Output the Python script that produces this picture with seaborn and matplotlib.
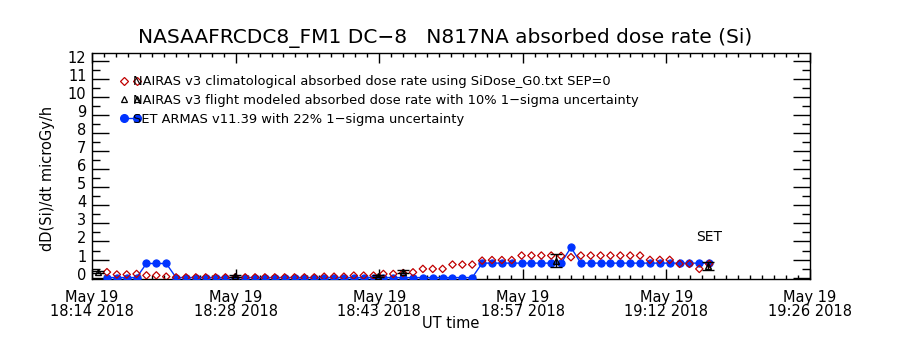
import matplotlib
matplotlib.use("Agg")
import matplotlib.pyplot as plt
import matplotlib.transforms as mtransforms
import seaborn as sns
import pandas as pd
from matplotlib.lines import Line2D
from matplotlib.ticker import FixedLocator, MultipleLocator

# time of each ARMAS/NAIRAS sample, minutes after 18:14 UT
t_min = [1.50, 2.49, 3.48, 4.47, 5.46, 6.45, 7.44, 8.43, 9.42, 10.41,
         11.40, 12.39, 13.38, 14.37, 15.36, 16.35, 17.34, 18.33, 19.32, 20.31,
         21.30, 22.29, 23.28, 24.27, 25.26, 26.25, 27.24, 28.23, 29.22, 30.21,
         31.20, 32.19, 33.18, 34.17, 35.16, 36.15, 37.14, 38.13, 39.12, 40.11,
         41.10, 42.09, 43.08, 44.07, 45.06, 46.05, 47.04, 48.03, 49.02, 50.01,
         51.00, 51.99, 52.98, 53.97, 54.96, 55.95, 56.94, 57.93, 58.92, 59.91,
         60.90, 61.89]

# SET ARMAS v11.39 dose rate
set_armas = [0, 0, 0, 0, 0.78, 0.78, 0.78, 0, 0, 0,
             0, 0, 0, 0, 0, 0, 0, 0, 0, 0,
             0, 0, 0, 0, 0, 0, 0, 0, 0, 0,
             0, 0, 0, 0, 0, 0, 0, 0, 0.80, 0.80,
             0.80, 0.80, 0.80, 0.80, 0.80, 0.80, 0.80, 1.67, 0.80, 0.80,
             0.80, 0.80, 0.80, 0.80, 0.80, 0.80, 0.80, 0.80, 0.80, 0.80,
             0.80, 0.80]

# NAIRAS v3 climatological dose rate
nairas_clim = [0.30, 0.17, 0.17, 0.20, 0.12, 0.12, 0.05, 0.01, 0.01, 0.01,
               0.01, 0.01, 0.01, 0.01, 0.01, 0.01, 0.01, 0.01, 0.01, 0.01,
               0.01, 0.01, 0.05, 0.05, 0.05, 0.11, 0.11, 0.11, 0.20, 0.20,
               0.25, 0.29, 0.48, 0.48, 0.48, 0.72, 0.72, 0.72, 0.94, 0.97,
               0.97, 0.97, 1.22, 1.22, 1.22, 1.22, 1.20, 1.13, 1.22, 1.22,
               1.22, 1.22, 1.22, 1.22, 1.22, 0.98, 0.98, 0.98, 0.76, 0.76,
               0.48, 0.76]

# NAIRAS v3 flight-modeled dose rate (sparse) with uncertainty
flt_t = [0.60, 14.30, 28.70, 31.20, 46.50, 61.80]
flt_v = [0.30, 0.10, 0.10, 0.33, 0.94, 0.62]
flt_err = [0.04, 0.06, 0.06, 0.10, 0.38, 0.22]

xtick_min = [0, 14.4, 28.8, 43.2, 57.6, 72.0]
xtick_labels = ["May 19\n18:14 2018", "May 19\n18:28 2018", "May 19\n18:43 2018",
                "May 19\n18:57 2018", "May 19\n19:12 2018", "May 19\n19:26 2018"]

title = "NASAAFRCDC8_FM1 DC\u22128   N817NA absorbed dose rate (Si)"
leg_labels = ["NAIRAS v3 climatological absorbed dose rate using SiDose_G0.txt SEP=0",
              "NAIRAS v3 flight modeled absorbed dose rate with 10% 1\u2212sigma uncertainty",
              "SET ARMAS v11.39 with 22% 1\u2212sigma uncertainty"]

sns.set_style("white")
plt.rcParams["font.family"] = ["DejaVu Sans"]
plt.rcParams.update({"text.color": "black", "axes.labelcolor": "black",
                     "xtick.color": "black", "ytick.color": "black"})

RED = "#c00000"
BLUE = "#0033ff"

fig = plt.figure(figsize=(9, 3.5), dpi=100)
ax = fig.add_axes([92 / 900, 1 - 279 / 350, 718 / 900, 226 / 350])

df_set = pd.DataFrame({"t": t_min, "v": set_armas})
df_clim = pd.DataFrame({"t": t_min, "v": nairas_clim})

sns.lineplot(data=df_set, x="t", y="v", ax=ax, color=BLUE, lw=1.0,
             marker="o", markersize=5.2, markeredgecolor=BLUE, zorder=3)
sns.scatterplot(data=df_clim, x="t", y="v", ax=ax, marker="D", s=14,
                facecolor="none", edgecolor=RED, linewidth=0.9, zorder=4)
ax.errorbar(flt_t, flt_v, yerr=flt_err, fmt="^", ms=4, mfc="none",
            mec="black", ecolor="black", elinewidth=1.0, capsize=4,
            capthick=1.0, zorder=5)

ax.set_xlim(0, 72)
ax.set_ylim(-0.08, 12.45)
ax.xaxis.set_major_locator(FixedLocator(xtick_min))
ax.set_xticklabels(xtick_labels, fontsize=10.5, linespacing=0.9)
ax.xaxis.set_minor_locator(MultipleLocator(1.2))
ax.yaxis.set_major_locator(MultipleLocator(1))
ax.yaxis.set_minor_locator(MultipleLocator(0.5))
ax.tick_params(axis="y", which="major", direction="in", length=12, width=1,
               labelsize=10.5, left=True, right=True, pad=4)
ax.tick_params(axis="y", which="minor", direction="in", length=6, width=1,
               left=True, right=True)
ax.tick_params(axis="x", which="major", direction="in", length=7, width=1,
               bottom=True, top=True, pad=8)
ax.tick_params(axis="x", which="minor", direction="in", length=3, width=1,
               bottom=True, top=True)
for s in ax.spines.values():
    s.set_color("black")
    s.set_linewidth(1.0)

# y tick labels sit a few pixels above their ticks in the reference
shift = mtransforms.ScaledTranslation(0, 4 / 100, fig.dpi_scale_trans)
for lab in ax.get_yticklabels():
    lab.set_transform(lab.get_transform() + shift)

ax.set_xlabel("UT time", fontsize=10.5, labelpad=-2)
ax.set_ylabel("dD(Si)/dt microGy/h", fontsize=10.5)
ax.yaxis.set_label_coords(-0.0515, 0.447)
fig.text(445 / 900, 1 - 38 / 350, title, ha="center", va="center", fontsize=14.5)

ax.text(60.6, 2.25, "SET", fontsize=10, ha="left", va="center")

handles = [
    Line2D([], [], ls="none", marker="D", ms=4, mfc="none", mec=RED, mew=0.9),
    Line2D([], [], ls="none", marker="^", ms=5, mfc="none", mec="black", mew=0.9),
    Line2D([], [], ls="-", color=BLUE, marker="o", ms=5.5, mec=BLUE, lw=1),
]
leg = ax.legend(handles, leg_labels, loc="upper left", bbox_to_anchor=(0.032, 0.925),
                frameon=False, fontsize=9.4, numpoints=2, handlelength=1.6,
                handletextpad=-0.6, labelspacing=0.45, borderaxespad=0)

sns.despine(ax=ax, top=False, right=False)
fig.savefig("out.png", dpi=100, facecolor="white")
